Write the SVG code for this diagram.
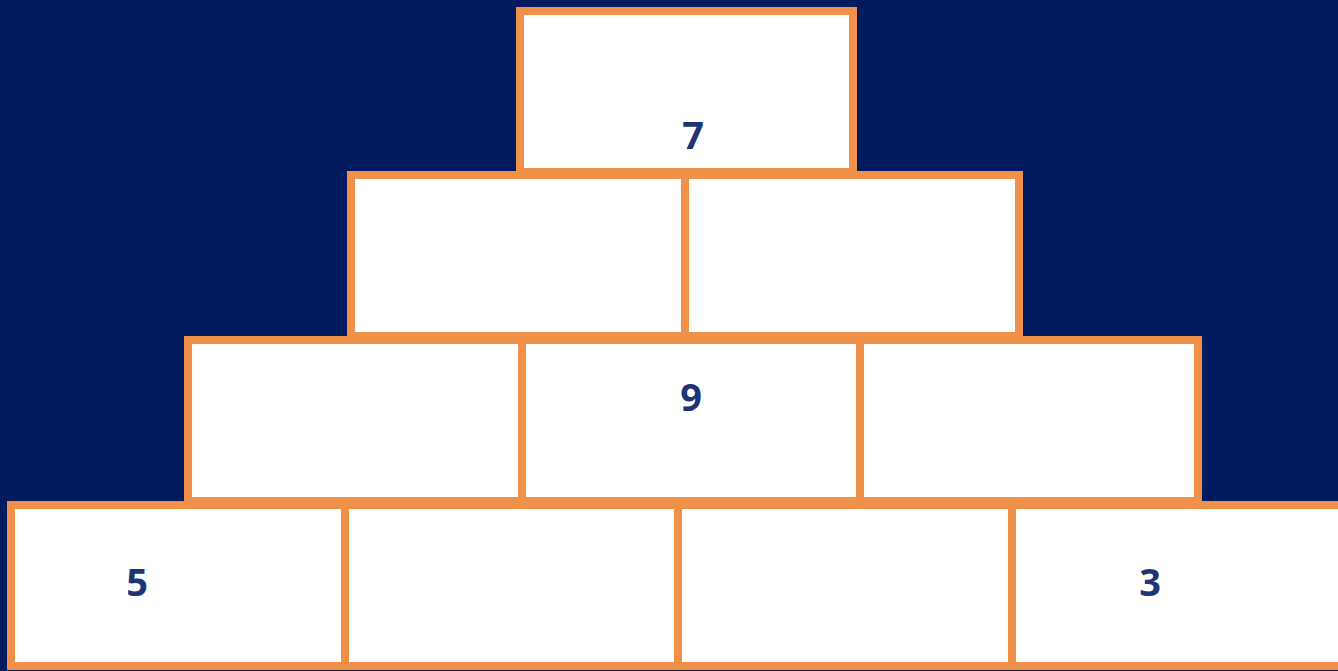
<svg xmlns="http://www.w3.org/2000/svg" width="1338" height="671" viewBox="0 0 1338 671">
<style>
.cell{fill:#ffffff;stroke:#f0914a;stroke-width:8}
.num{font-family:"Open Sans","Noto Sans","Liberation Sans",sans-serif;font-weight:bold;font-size:38px;fill:#1d3577;text-anchor:middle}
</style>
<rect x="0" y="0" width="1338" height="671" fill="#001b5e"/>
<g id="top"><rect class="cell" x="520" y="11" width="333" height="161"/><text class="num" x="693" y="149">7</text></g>
<g id="r2c1"><rect class="cell" x="351" y="175" width="334" height="161"/></g>
<g id="r2c2"><rect class="cell" x="685" y="175" width="334" height="161"/></g>
<g id="r3c1"><rect class="cell" x="188" y="340" width="334" height="161"/></g>
<g id="r3c2"><rect class="cell" x="522" y="340" width="338" height="161"/><text class="num" x="691" y="411">9</text></g>
<g id="r3c3"><rect class="cell" x="860" y="340" width="338" height="161"/></g>
<g id="r4c1"><rect class="cell" x="11" y="505" width="334" height="161"/><text class="num" x="137" y="596">5</text></g>
<g id="r4c2"><rect class="cell" x="345" y="505" width="333" height="161"/></g>
<g id="r4c3"><rect class="cell" x="678" y="505" width="334" height="161"/></g>
<g id="r4c4"><rect class="cell" x="1012" y="505" width="334" height="161"/><text class="num" x="1150" y="596">3</text></g>
<g id="connectors"></g>
</svg>
